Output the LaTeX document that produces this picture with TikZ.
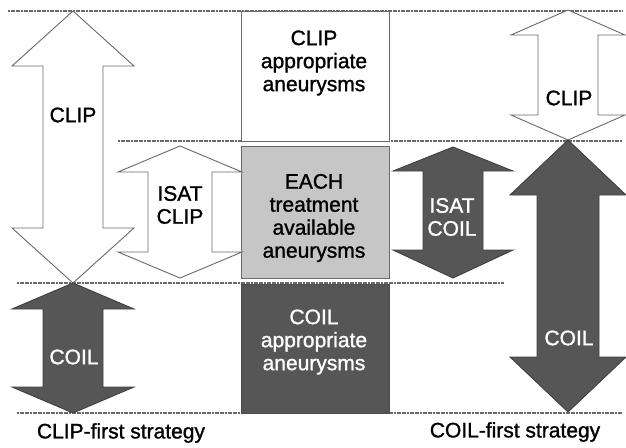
\documentclass[tikz,border=0pt]{standalone}
\usepackage{fontspec}
\setmainfont[FakeBold=1.2]{Liberation Sans}
\definecolor{darkfill}{HTML}{565656}
\definecolor{lightfill}{HTML}{C6C6C6}
\definecolor{edgegray}{HTML}{6A6A6A}
\newcommand\dblarrowpoly[9]{% style, name, cx, top, bottom, headhalf, shafthalf, toplen, botlen
  \draw[#1] (#3,#4) -- ({#3+#6},{#4+#8}) -- ({#3+#7},{#4+#8}) -- ({#3+#7},{#5-#9})
    -- ({#3+#6},{#5-#9}) -- (#3,#5) -- ({#3-#6},{#5-#9}) -- ({#3-#7},{#5-#9})
    -- ({#3-#7},{#4+#8}) -- ({#3-#6},{#4+#8}) -- cycle;
  \coordinate (#2) at (#3,{(#4+#5)/2});}
\tikzset{
  sep/.style={draw=edgegray, line width=1.1pt, dash pattern=on 2pt off 0.6pt},
  whitearrow/.style={draw=edgegray, fill=white, line width=0.9pt},
  darkarrow/.style={draw=black!75, fill=darkfill, line width=0.9pt},
  lbl/.style={font=\fontsize{21}{23}\selectfont, align=center, inner sep=0pt},
  whitelbl/.style={lbl, text=white},
  caption/.style={font=\fontsize{21}{24}\selectfont, inner sep=0pt},
  box/.style={draw=edgegray, line width=1pt}
}
\begin{document}
\begin{tikzpicture}[x=1pt,y=-1pt]
\useasboundingbox (0,0) rectangle (626,447);
\clip (0,0) rectangle (626,447);
% horizontal separator lines
\coordinate (l1a) at (8,11);   \coordinate (l1b) at (622,11);
\coordinate (l2a) at (118,141); \coordinate (l2b) at (622,141);
\coordinate (l3a) at (17,283);  \coordinate (l3b) at (504,283);
\coordinate (l4a) at (17,413);  \coordinate (l4b) at (622,413);
\draw[sep] (l1a) -- (l1b);
\draw[sep] (l2a) -- (l2b);
\draw[sep] (l3a) -- (l3b);
\draw[sep] (l4a) -- (l4b);
% central boxes
\draw[box, fill=white] (241,11) rectangle (389,141);
\draw[box, fill=lightfill] (241,146) rectangle (389,278);
\draw[box, draw=black!70, fill=darkfill] (241,284) rectangle (389,413);
\node[lbl] (clipbox) at (314,63) {CLIP\\appropriate\\aneurysms};
\node[lbl] (eachbox) at (314,218) {EACH\\treatment\\available\\aneurysms};
\node[whitelbl] (coilbox) at (314,342) {COIL\\appropriate\\aneurysms};
% left: CLIP-first strategy
\dblarrowpoly{whitearrow}{lclip}{73}{11}{283}{61}{30}{55}{55}
\dblarrowpoly{darkarrow}{lcoil}{73}{283}{413}{61}{30}{26}{26}
\node[lbl] at (73,115) {CLIP};
\node[whitelbl] at (74,357) {COIL};
% ISAT arrows
\dblarrowpoly{whitearrow}{iclip}{180}{146}{278}{62}{32}{26}{26}
\node[lbl] at (180,205) {ISAT\\CLIP};
\dblarrowpoly{darkarrow}{icoil}{453}{147}{278}{60}{30}{24}{28}
\node[whitelbl] at (452,217) {ISAT\\COIL};
% right: COIL-first strategy
\dblarrowpoly{whitearrow}{rclip}{568}{10}{140}{57}{30}{25}{25}
\node[lbl] at (569,98) {CLIP};
\dblarrowpoly{darkarrow}{rcoil}{568}{140}{412}{58}{31}{55}{55}
\node[whitelbl] at (569,338) {COIL};
% captions
\node[caption] (capl) at (121,433) {CLIP-first strategy};
\node[caption] (capr) at (515,432) {COIL-first strategy};
\end{tikzpicture}
\end{document}
